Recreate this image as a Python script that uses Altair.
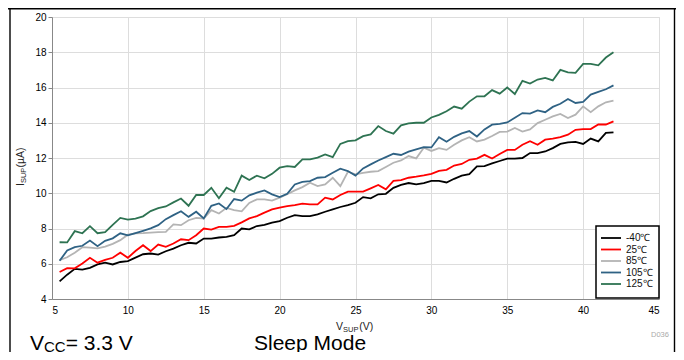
import altair as alt
import pandas as pd

FONT = "Liberation Sans"
NB = "\u00a0"

temps = ["-40℃", "25℃", "85℃", "105℃", "125℃"]
colors = ["#000000", "#ff0000", "#b4b4b4", "#2f6284", "#2e7352"]

vsup = [round(5.5 + 0.5 * i, 1) for i in range(74)]

i_m40 = [5.00, 5.38, 5.71, 5.67, 5.77, 5.96, 6.06, 5.96, 6.10, 6.15,
         6.35, 6.54, 6.58, 6.52, 6.71, 6.86, 7.05, 7.19, 7.15, 7.43,
         7.43, 7.49, 7.53, 7.62, 8.00, 7.95, 8.14, 8.20, 8.33, 8.42,
         8.61, 8.76, 8.70, 8.70, 8.80, 8.95, 9.08, 9.22, 9.33, 9.46,
         9.78, 9.71, 9.94, 9.97, 10.31, 10.47, 10.58, 10.50, 10.58, 10.70,
         10.70, 10.61, 10.82, 11.00, 11.08, 11.52, 11.54, 11.69, 11.83, 11.96,
         11.96, 12.00, 12.28, 12.28, 12.37, 12.56, 12.80, 12.89, 12.92, 12.80,
         13.10, 12.94, 13.42, 13.45]
i_25 = [5.53, 5.75, 5.74, 6.02, 6.34, 6.06, 6.22, 6.34, 6.63, 6.34,
        6.72, 7.05, 6.72, 7.09, 6.96, 7.15, 7.39, 7.34, 7.62, 8.00,
        7.94, 8.09, 8.09, 8.15, 8.35, 8.57, 8.70, 8.90, 9.08, 9.18,
        9.27, 9.33, 9.41, 9.37, 9.37, 9.75, 9.65, 9.90, 10.09, 10.09,
        10.09, 10.28, 10.47, 10.22, 10.70, 10.75, 10.88, 10.94, 11.01, 11.10,
        11.27, 11.33, 11.57, 11.66, 11.90, 11.97, 12.18, 11.97, 12.23, 12.46,
        12.46, 12.75, 12.95, 12.75, 13.04, 13.10, 13.19, 13.32, 13.60, 13.64,
        13.64, 13.90, 13.90, 14.08]
i_85 = [6.21, 6.37, 6.63, 6.94, 6.92, 6.87, 6.97, 7.13, 7.34, 7.65,
        7.72, 7.74, 7.77, 7.80, 7.81, 8.23, 8.19, 8.47, 8.60, 8.57,
        9.04, 8.85, 9.17, 9.04, 8.97, 9.45, 9.65, 9.65, 9.58, 9.75,
        9.94, 10.16, 10.35, 10.60, 10.41, 10.50, 10.88, 10.40, 11.22, 11.07,
        11.16, 11.22, 11.26, 11.49, 11.73, 11.86, 12.11, 11.98, 12.58, 12.40,
        12.56, 12.46, 12.75, 13.00, 13.18, 12.94, 13.04, 13.25, 13.48, 13.50,
        13.70, 13.50, 13.62, 13.98, 14.17, 14.36, 14.50, 14.27, 14.46, 14.93,
        14.60, 14.93, 15.16, 15.25]
i_105 = [6.17, 6.75, 6.94, 7.02, 7.32, 7.00, 7.30, 7.44, 7.73, 7.61,
         7.74, 7.87, 8.01, 8.19, 8.53, 8.76, 8.98, 8.66, 8.95, 8.57,
         9.29, 9.42, 9.10, 9.67, 9.58, 9.88, 10.03, 10.16, 9.94, 9.78,
         9.97, 10.50, 10.65, 10.69, 10.88, 10.92, 11.16, 11.39, 11.26, 11.00,
         11.41, 11.64, 11.86, 12.05, 12.24, 12.17, 12.36, 12.49, 12.62, 12.60,
         13.18, 12.92, 13.20, 13.40, 13.53, 13.22, 13.62, 13.89, 13.94, 14.02,
         14.28, 14.55, 14.52, 14.70, 14.60, 14.90, 15.08, 15.35, 15.12, 15.18,
         15.60, 15.75, 15.90, 16.12]
i_125 = [7.22, 7.21, 7.85, 7.73, 8.13, 7.73, 7.79, 8.21, 8.60, 8.50,
         8.56, 8.69, 8.99, 9.15, 9.25, 9.48, 9.70, 9.29, 9.90, 9.90,
         10.31, 9.72, 10.31, 10.08, 11.00, 10.75, 11.00, 10.85, 11.10, 11.45,
         11.54, 11.49, 11.92, 11.92, 12.02, 12.20, 12.05, 12.80, 12.96, 13.00,
         13.24, 13.34, 13.81, 13.53, 13.38, 13.85, 13.96, 14.00, 14.00, 14.30,
         14.45, 14.65, 14.92, 14.80, 15.20, 15.50, 15.50, 15.85, 15.65, 16.00,
         15.63, 16.38, 16.22, 16.45, 16.54, 16.40, 17.00, 16.86, 16.83, 17.34,
         17.34, 17.26, 17.70, 18.00]

x_ticks = [5, 10, 15, 20, 25, 30, 35, 40, 45]
y_ticks = [4, 6, 8, 10, 12, 14, 16, 18, 20]

rows = []
for t, vals in zip(temps, [i_m40, i_25, i_85, i_105, i_125]):
    for v, c in zip(vsup, vals):
        rows.append({"vsup": v, "isup": c, "temp": t})
df = pd.DataFrame(rows)
one = pd.DataFrame({"a": [0]})

lines = alt.Chart(df).mark_line(strokeWidth=1.8).encode(
    x=alt.X("vsup:Q", scale=alt.Scale(domain=[5, 45], nice=False, zero=False),
            axis=alt.Axis(values=x_ticks, format="d", title=None, ticks=False,
                          labelPadding=6)),
    y=alt.Y("isup:Q", scale=alt.Scale(domain=[4, 20], nice=False, zero=False),
            axis=alt.Axis(values=y_ticks, format="d", title=None, ticks=True,
                          tickSize=4, labelPadding=2)),
    color=alt.Color("temp:N", scale=alt.Scale(domain=temps, range=colors), legend=None),
)


def txt(s, x, y, size, dx=0, dy=0, angle=0, color="black"):
    return alt.Chart(one).mark_text(
        text=s, fontSize=size, font=FONT, dx=dx, dy=dy, angle=angle,
        color=color, align="left", baseline="alphabetic"
    ).encode(x=alt.value(x), y=alt.value(y))


def rule_h(x1, x2, y, color="black", w=1.4):
    return alt.Chart(one).mark_rule(color=color, strokeWidth=w).encode(
        x=alt.value(x1), x2=alt.value(x2), y=alt.value(y))


def rule_v(x, y1, y2, color="black", w=1.4):
    return alt.Chart(one).mark_rule(color=color, strokeWidth=w).encode(
        x=alt.value(x), y=alt.value(y1), y2=alt.value(y2))


layers = [lines]

# legend box
layers.append(alt.Chart(one).mark_rect(fill="white", stroke="black", strokeWidth=1.5).encode(
    x=alt.value(544), x2=alt.value(607), y=alt.value(209), y2=alt.value(281)))
for i, (t, c) in enumerate(zip(temps, colors)):
    yy = 221 + 11.5 * i
    layers.append(rule_h(549, 569, yy, color=c, w=1.8))
    layers.append(alt.Chart(one).mark_text(
        text=t, fontSize=10, font=FONT, align="left", baseline="middle", color="#111"
    ).encode(x=alt.value(574), y=alt.value(yy)))

# y axis title (I_SUP (µA)), rotated
ax, ay = -28.5, 169
layers.append(txt("I", ax, ay, 10.5, angle=270, color="#222"))
layers.append(txt("SUP", ax, ay, 7.5, dx=2.9, dy=2.5, angle=270, color="#222"))
layers.append(txt(NB + "(µA)", ax, ay, 10.5, dx=2.9 + 15.6, angle=270, color="#222"))

# x axis title (V_SUP (V))
bx, by = 284, 313
layers.append(txt("V", bx, by, 10.5, color="#222"))
layers.append(txt("SUP", bx, by, 7.5, dx=7.0, dy=1.5, color="#222"))
layers.append(txt(NB + "(V)", bx, by, 10.5, dx=7.0 + 16.2, color="#222"))

# bottom captions
cx, cy = -22, 332.5
layers.append(txt("V", cx, cy, 21))
layers.append(txt("CC", cx, cy, 15, dx=14.0, dy=2.5))
layers.append(txt(NB + "=" + NB + "3.3" + NB + "V", cx, cy, 21, dx=14.0 + 21.7))
layers.append(txt("Sleep Mode", 202, cy, 21))
layers.append(txt("D036", 599, 320, 7.5, color="#aaaaaa"))

# outer frame lines
layers.append(rule_h(-44, 624, -8.3))
layers.append(rule_v(-42, -9, 335))
layers.append(rule_v(622.5, -9, 335))

chart = alt.layer(*layers).properties(
    width=607, height=282,
    autosize=alt.AutoSizeParams(type="none"),
    padding={"left": 44, "top": 9, "right": 17, "bottom": 53},
).configure_view(
    stroke="black", strokeWidth=2
).configure_axis(
    grid=True, gridColor="#5c5c5c", gridWidth=1.5,
    domainColor="black", domainWidth=2,
    tickColor="#444", tickWidth=1.2,
    labelFont=FONT, labelFontSize=10, labelColor="#222",
).configure(background="white")

chart.save("out.html", embed_options={"renderer": "svg", "actions": False})
